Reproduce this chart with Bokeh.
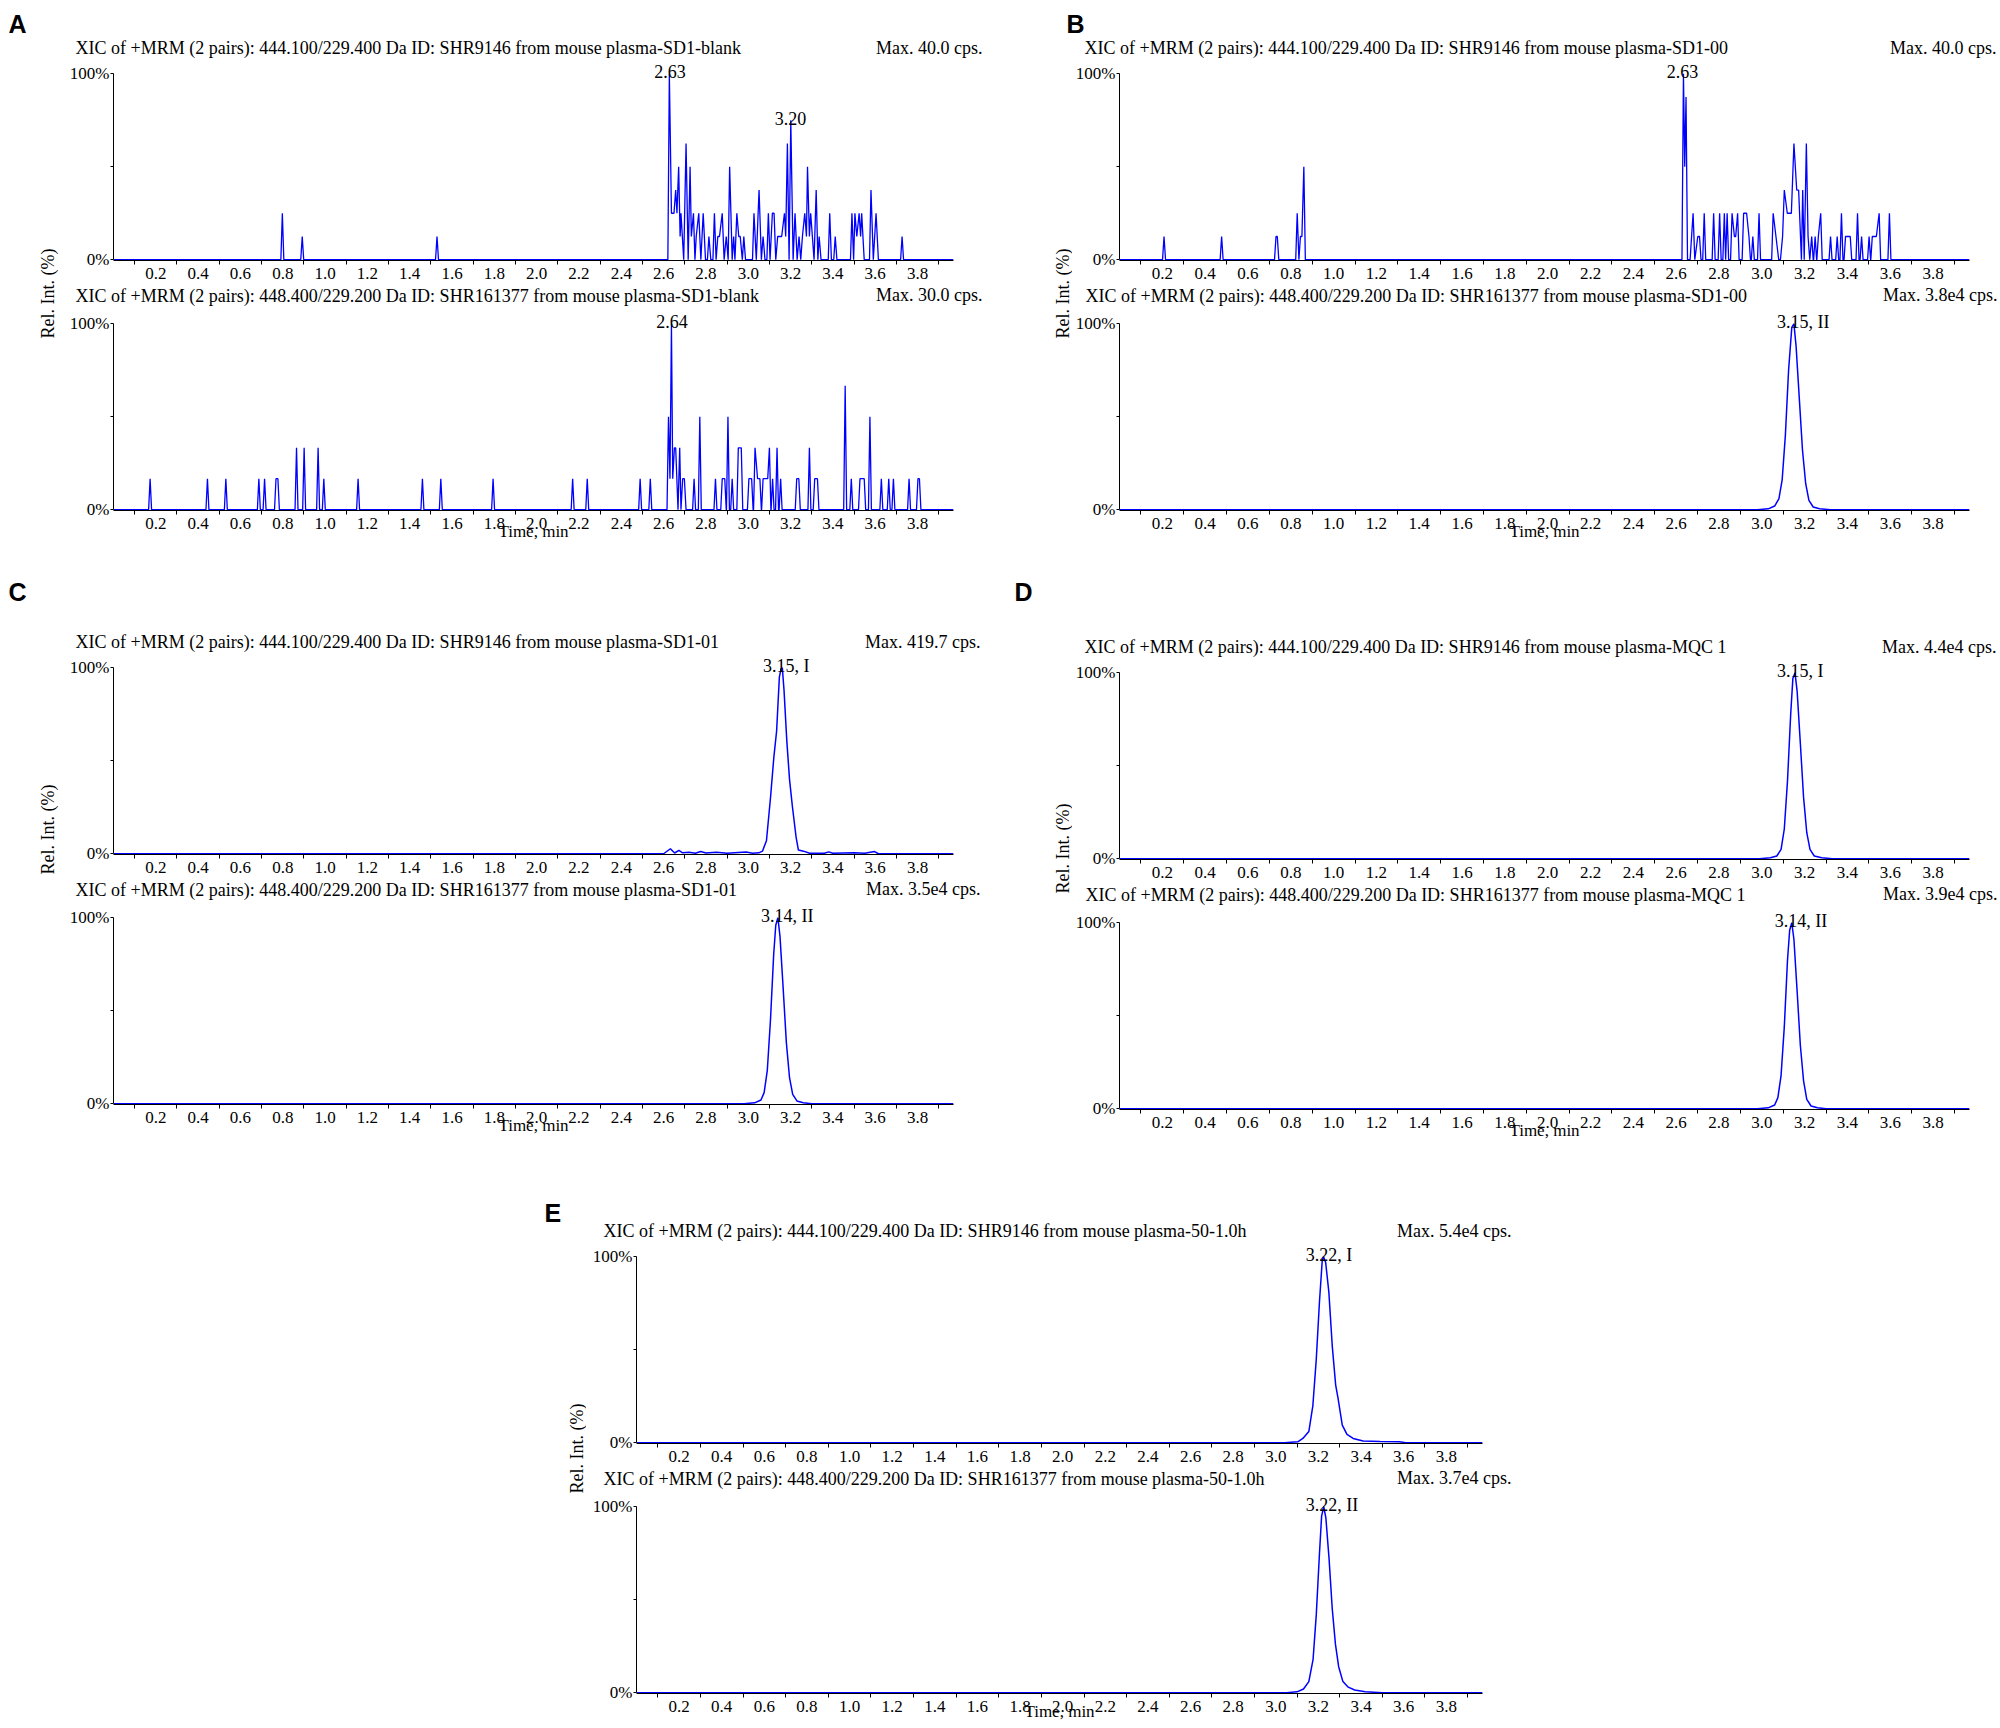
import math
from bokeh.plotting import figure
from bokeh.models import Range1d, FixedTicker, Label, Spacer, Title
from bokeh.layouts import row, column
from bokeh.embed import file_html
from bokeh.resources import INLINE

SERIF = "Liberation Serif"
SANS = "Liberation Sans"
BLUE = "#0000ff"
XEND = 3.97

# ---------------- axis ticks ----------------
X_TICKS = [0.2, 0.4, 0.6, 0.8, 1.0, 1.2, 1.4, 1.6, 1.8, 2.0, 2.2, 2.4, 2.6, 2.8, 3.0, 3.2, 3.4, 3.6, 3.8]
X_TICK_LABELS = ["0.2", "0.4", "0.6", "0.8", "1.0", "1.2", "1.4", "1.6", "1.8", "2.0",
                 "2.2", "2.4", "2.6", "2.8", "3.0", "3.2", "3.4", "3.6", "3.8"]
X_MINOR = [0.1, 0.3, 0.5, 0.7, 0.9, 1.1, 1.3, 1.5, 1.7, 1.9, 2.1, 2.3, 2.5, 2.7, 2.9, 3.1, 3.3, 3.5, 3.7, 3.9]
Y_TICKS = [0, 50, 100]
Y_TICK_LABELS = ["0%", "", "100%"]

# ---------------- texts ----------------
PANEL_LETTERS = ["A", "B", "C", "D", "E"]
Y_LABEL = "Rel. Int. (%)"
X_LABEL = "Time, min"
TITLES = {
    "A1": "XIC of +MRM (2 pairs): 444.100/229.400 Da ID: SHR9146 from  mouse plasma-SD1-blank",
    "A2": "XIC of +MRM (2 pairs): 448.400/229.200 Da ID: SHR161377 from  mouse plasma-SD1-blank",
    "B1": "XIC of +MRM (2 pairs): 444.100/229.400 Da ID: SHR9146 from mouse plasma-SD1-00",
    "B2": "XIC of +MRM (2 pairs): 448.400/229.200 Da ID: SHR161377 from mouse plasma-SD1-00",
    "C1": "XIC of +MRM (2 pairs): 444.100/229.400 Da ID: SHR9146 from mouse plasma-SD1-01",
    "C2": "XIC of +MRM (2 pairs): 448.400/229.200 Da ID: SHR161377 from mouse plasma-SD1-01",
    "D1": "XIC of +MRM (2 pairs): 444.100/229.400 Da ID: SHR9146 from mouse plasma-MQC 1",
    "D2": "XIC of +MRM (2 pairs): 448.400/229.200 Da ID: SHR161377 from mouse plasma-MQC 1",
    "E1": "XIC of +MRM (2 pairs): 444.100/229.400 Da ID: SHR9146 from mouse plasma-50-1.0h",
    "E2": "XIC of +MRM (2 pairs): 448.400/229.200 Da ID: SHR161377 from mouse plasma-50-1.0h",
}
MAXES = {
    "A1": "Max. 40.0 cps.", "A2": "Max. 30.0 cps.",
    "B1": "Max. 40.0 cps.", "B2": "Max. 3.8e4 cps.",
    "C1": "Max. 419.7 cps.", "C2": "Max. 3.5e4 cps.",
    "D1": "Max. 4.4e4 cps.", "D2": "Max. 3.9e4 cps.",
    "E1": "Max. 5.4e4 cps.", "E2": "Max. 3.7e4 cps.",
}
# peak annotations: (time, rel. intensity, text)
PEAKS = {
    "A1": [(2.63, 100, "2.63"), (3.20, 75, "3.20")],
    "A2": [(2.64, 100, "2.64")],
    "B1": [(2.63, 100, "2.63")],
    "B2": [(3.15, 100, "3.15, II")],
    "C1": [(3.15, 100, "3.15, I")],
    "C2": [(3.14, 100, "3.14, II")],
    "D1": [(3.15, 100, "3.15, I")],
    "D2": [(3.14, 100, "3.14, II")],
    "E1": [(3.22, 100, "3.22, I")],
    "E2": [(3.22, 100, "3.22, II")],
}

# ---------------- noise traces (time min, rel. int. %) ----------------
A1_SPIKES = [(0.798, 25), (0.892, 12.5), (1.529, 12.5),
             (2.627, 100), (2.637, 25), (2.649, 25), (2.657, 37.5), (2.663, 25), (2.671, 50), (2.678, 12.5),
             (2.682, 25), (2.695, 0), (2.706, 62.5), (2.716, 0), (2.725, 50), (2.731, 12.5), (2.741, 25),
             (2.748, 0), (2.754, 12.5), (2.766, 25), (2.776, 0), (2.787, 25), (2.798, 0), (2.814, 12.5),
             (2.823, 0), (2.840, 25), (2.848, 0), (2.856, 12.5), (2.864, 12.5), (2.877, 25), (2.886, 0),
             (2.896, 12.5), (2.905, 0), (2.912, 50), (2.924, 0), (2.931, 12.5), (2.937, 0), (2.946, 25),
             (2.955, 12.5), (2.962, 12.5), (2.972, 0), (2.979, 12.5), (2.987, 0), (3.027, 25), (3.038, 0),
             (3.051, 37.5), (3.062, 0), (3.070, 12.5), (3.079, 0), (3.095, 25), (3.103, 0), (3.114, 25),
             (3.122, 25), (3.130, 0), (3.139, 12.5), (3.149, 12.5), (3.158, 12.5), (3.171, 25), (3.177, 12.5),
             (3.185, 62.5), (3.193, 0), (3.201, 75), (3.212, 0), (3.221, 25), (3.231, 0), (3.240, 12.5),
             (3.248, 0), (3.256, 12.5), (3.267, 25), (3.275, 12.5), (3.280, 50), (3.289, 12.5), (3.295, 25),
             (3.303, 12.5), (3.311, 0), (3.321, 37.5), (3.329, 0), (3.335, 12.5), (3.344, 0), (3.385, 25),
             (3.393, 0), (3.411, 12.5), (3.419, 0), (3.490, 25), (3.498, 0), (3.504, 25), (3.513, 12.5),
             (3.524, 25), (3.531, 12.5), (3.536, 25), (3.548, 0), (3.580, 37.5), (3.591, 0), (3.604, 25),
             (3.615, 0), (3.727, 12.5)]

A2_SPIKES = [(0.173, 16.7), (0.444, 16.7), (0.531, 16.7), (0.687, 16.7), (0.714, 16.7), (0.768, 16.7),
             (0.777, 16.7), (0.865, 33.3), (0.901, 33.3), (0.967, 33.3), (0.994, 16.7), (1.156, 16.7),
             (1.460, 16.7), (1.547, 16.7), (1.794, 16.7), (2.170, 16.7), (2.239, 16.7), (2.489, 16.7),
             (2.537, 16.7), (2.623, 50), (2.630, 16.7), (2.637, 100), (2.643, 16.7), (2.651, 33.3),
             (2.657, 33.3), (2.668, 0), (2.676, 33.3), (2.682, 0), (2.690, 16.7), (2.698, 16.7), (2.706, 0),
             (2.744, 16.7), (2.771, 50), (2.845, 16.7), (2.877, 16.7), (2.889, 16.7), (2.904, 50),
             (2.924, 16.7), (2.953, 33.3), (2.967, 33.3), (3.003, 16.7), (3.016, 16.7), (3.032, 33.3),
             (3.044, 16.7), (3.055, 16.7), (3.070, 16.7), (3.084, 16.7), (3.092, 16.7), (3.100, 33.3),
             (3.115, 16.7), (3.136, 33.3), (3.153, 16.7), (3.229, 16.7), (3.239, 16.7), (3.289, 33.3),
             (3.314, 16.7), (3.327, 16.7), (3.458, 66.7), (3.487, 16.7), (3.528, 16.7), (3.540, 16.7),
             (3.548, 16.7), (3.575, 50), (3.629, 16.7), (3.664, 16.7), (3.686, 16.7), (3.760, 16.7),
             (3.802, 16.7), (3.809, 16.7)]

B1_SPIKES = [(0.208, 12.5), (0.477, 12.5), (0.731, 12.5), (0.737, 12.5), (0.830, 25), (0.838, 0),
             (0.845, 12.5), (0.852, 12.5), (0.861, 50),
             (2.634, 100), (2.640, 50), (2.646, 87.5), (2.665, 0), (2.679, 25), (2.687, 0), (2.701, 12.5),
             (2.709, 12.5), (2.731, 25), (2.775, 25), (2.803, 25), (2.825, 25), (2.831, 0), (2.838, 25),
             (2.861, 25), (2.872, 12.5), (2.878, 12.5), (2.887, 25), (2.915, 25), (2.929, 25), (2.940, 12.5),
             (2.958, 12.5), (2.987, 25), (3.053, 25), (3.066, 12.5), (3.079, 0), (3.087, 0), (3.097, 12.5),
             (3.105, 37.5), (3.119, 25), (3.128, 25), (3.138, 25), (3.150, 62.5), (3.163, 37.5),
             (3.172, 37.5), (3.185, 0), (3.191, 37.5), (3.198, 0), (3.208, 62.5), (3.216, 12.5), (3.224, 0),
             (3.233, 12.5), (3.249, 12.5), (3.264, 12.5), (3.275, 25), (3.321, 12.5), (3.352, 12.5),
             (3.372, 25), (3.391, 12.5), (3.402, 12.5), (3.413, 12.5), (3.447, 25), (3.466, 12.5),
             (3.501, 12.5), (3.516, 12.5), (3.529, 12.5), (3.535, 12.5), (3.548, 25), (3.596, 25)]

# ---------------- peak traces (time min, rel. int. %) ----------------
B2_PEAK = [(2.98, 0), (3.03, 0.5), (3.06, 2), (3.08, 6), (3.095, 16), (3.11, 40), (3.125, 75), (3.14, 98),
           (3.15, 100), (3.16, 88), (3.175, 60), (3.19, 32), (3.205, 14), (3.22, 5), (3.24, 1.5),
           (3.27, 0.5), (3.32, 0)]
C1_PEAK = [(2.60, 0), (2.632, 2.7), (2.652, 0.4), (2.672, 1.8), (2.69, 0.5), (2.72, 0.8), (2.75, 0.3),
           (2.775, 1.2), (2.80, 0.4), (2.85, 0.8), (2.90, 0.3), (2.99, 1.0), (3.02, 0.3), (3.05, 0.5),
           (3.067, 1.4), (3.086, 7), (3.105, 30), (3.121, 52), (3.134, 66), (3.147, 95), (3.155, 99.5),
           (3.161, 100), (3.169, 88), (3.182, 61), (3.195, 40), (3.209, 25), (3.226, 9), (3.237, 2),
           (3.261, 1.4), (3.29, 0.3), (3.36, 0.3), (3.38, 1.0), (3.40, 0.3), (3.50, 0.6), (3.55, 0.3),
           (3.597, 1.2), (3.615, 0)]
C2_PEAK = [(2.98, 0), (3.03, 0.5), (3.06, 2), (3.075, 6), (3.09, 18), (3.105, 45), (3.12, 80), (3.13, 96),
           (3.14, 100), (3.15, 90), (3.165, 62), (3.18, 33), (3.195, 14), (3.21, 5), (3.23, 1.5),
           (3.26, 0.5), (3.30, 0)]
D1_PEAK = [(2.99, 0), (3.04, 0.5), (3.07, 1.5), (3.09, 5), (3.105, 16), (3.12, 42), (3.135, 78),
           (3.145, 97), (3.155, 100), (3.165, 90), (3.18, 62), (3.195, 33), (3.21, 14), (3.225, 5),
           (3.245, 1.5), (3.28, 0.5), (3.33, 0)]
D2_PEAK = [(2.98, 0), (3.03, 0.5), (3.06, 2), (3.075, 6), (3.09, 18), (3.105, 44), (3.12, 80), (3.13, 96),
           (3.14, 100), (3.15, 91), (3.165, 63), (3.18, 34), (3.195, 15), (3.21, 5), (3.23, 1.5),
           (3.26, 0.5), (3.30, 0)]
E1_PEAK = [(3.04, 0), (3.103, 0.5), (3.127, 2.3), (3.155, 6), (3.174, 20), (3.190, 45), (3.205, 76),
           (3.218, 98), (3.224, 100), (3.234, 97), (3.249, 81), (3.265, 52), (3.281, 31), (3.292, 24),
           (3.312, 9.5), (3.334, 4.5), (3.363, 2.3), (3.41, 1), (3.49, 0.7), (3.58, 0.5), (3.61, 0)]
E2_PEAK = [(3.05, 0), (3.10, 0.5), (3.13, 2), (3.155, 6), (3.175, 18), (3.19, 42), (3.205, 75),
           (3.215, 95), (3.225, 100), (3.235, 94), (3.25, 72), (3.265, 45), (3.28, 26), (3.295, 14),
           (3.315, 6), (3.34, 3), (3.37, 1.5), (3.42, 0.5), (3.50, 0)]

SPIKE_DT = 0.007
# upper chart: frame starts ~15 px above the 100 % line (room for peak labels)
FRAME_H1, Y_TOP1 = 201, 107.7
# lower chart: frame starts at the centre line of its title row (27 px above 100 %)
FRAME_H2, Y_TOP2, TOP2 = 214, 114.65, 12


def spike_trace(points):
    xs, ys = [0.0], [0.0]
    for t, v in points:
        pt, pv = xs[-1], ys[-1]
        if t - pt > 0.0145:
            if pv != 0:
                xs.append(pt + SPIKE_DT); ys.append(0.0)
            if v != 0:
                xs.append(t - SPIKE_DT); ys.append(0.0)
        xs.append(t); ys.append(v)
    if ys[-1] != 0:
        xs.append(xs[-1] + SPIKE_DT); ys.append(0.0)
    xs.append(XEND); ys.append(0.0)
    return xs, ys


def peak_trace(points):
    xs = [0.0] + [p[0] for p in points] + [XEND]
    ys = [0.0] + [p[1] for p in points] + [0.0]
    return xs, ys


def txt(x, y, s, align="left", size="18px", **kw):
    return Label(x=x, y=y, text=s, text_font=SERIF, text_font_size=size, text_align=align,
                 text_baseline="middle", text_color="black", **kw)


def blank(w, h):
    p = figure(width=w, height=h, x_range=Range1d(0, w), y_range=Range1d(h, 0), min_border=0,
               x_axis_location=None, y_axis_location=None, output_backend="svg",
               toolbar_location=None, title=None)
    p.grid.visible = False
    p.outline_line_color = None
    return p


def header(key, w, h, x0, L, FW, title_dx, max_dx, letter, letter_x, letter_y):
    p = blank(w, h)
    p.add_layout(txt(x0 + L + title_dx, h - 12, TITLES[key]))
    p.add_layout(txt(x0 + L + FW + max_dx, h - 12, MAXES[key], align="right"))
    p.add_layout(Label(x=letter_x, y=letter_y, text=letter, text_font=SANS,
                       text_font_style="bold", text_font_size="25px", text_align="left",
                       text_baseline="middle", text_color="black"))
    return p


def chart(key, trace, L, R, B, FW, lower=False, spiky=True, title_dx=0, max_dx=0, time_std=0):
    fh, ytop, top = (FRAME_H2, Y_TOP2, TOP2) if lower else (FRAME_H1, Y_TOP1, 0)
    p = figure(frame_width=FW, frame_height=fh, min_border_left=L, min_border_right=R,
               min_border_top=top, min_border_bottom=B, x_range=Range1d(0, XEND),
               y_range=Range1d(-0.4, ytop), output_backend="svg", toolbar_location=None, title=None)
    xs, ys = trace
    p.line(xs, ys, line_color=BLUE, line_width=1.3 if spiky else 1.5)
    p.grid.visible = False
    p.outline_line_color = None

    xa = p.xaxis[0]
    xa.ticker = FixedTicker(ticks=X_TICKS, minor_ticks=X_MINOR)
    xa.major_label_overrides = dict(zip(X_TICKS, X_TICK_LABELS))
    xa.major_tick_out = 0
    xa.major_tick_in = 0
    xa.minor_tick_out = 4
    xa.minor_tick_in = 0
    xa.major_label_standoff = 3
    xa.major_label_text_font = SERIF
    xa.major_label_text_font_size = "17px"
    xa.major_label_text_color = "black"
    xa.axis_line_color = "black"
    xa.minor_tick_line_color = "black"

    ya = p.yaxis[0]
    ya.ticker = FixedTicker(ticks=Y_TICKS, minor_ticks=[])
    ya.major_label_overrides = dict(zip(Y_TICKS, Y_TICK_LABELS))
    ya.bounds = (0, 100)
    ya.major_tick_out = 3
    ya.major_tick_in = 0
    ya.minor_tick_out = 0
    ya.minor_tick_in = 0
    ya.major_label_standoff = 1
    ya.major_label_text_font = SERIF
    ya.major_label_text_font_size = "17px"
    ya.major_label_text_color = "black"
    ya.axis_line_color = "black"

    if lower:
        xa.axis_label = X_LABEL
        xa.axis_label_standoff = time_std
        xa.axis_label_text_font = SERIF
        xa.axis_label_text_font_size = "17px"
        xa.axis_label_text_font_style = "normal"
        xa.axis_label_text_color = "black"
        # title row of the lower chart: two zero-height titles centred on the frame top
        for s, al, off in ((TITLES[key], "left", title_dx), (MAXES[key], "right", -max_dx)):
            p.add_layout(Title(text=s, align=al, offset=off, vertical_align="middle", standoff=-21,
                               text_font=SERIF, text_font_size="18px", text_font_style="normal",
                               text_color="black"), "above")

    for (t, v, s) in PEAKS[key]:
        if "," in s:
            p.add_layout(txt(t, v, s, align="left", x_offset=-17, y_offset=2))
        else:
            p.add_layout(txt(t, v, s, align="center", y_offset=2))
    return p


def panel(k1, k2, tr1, tr2, spiky, W0, L, FW, R, H1, B1, B2, title_dx, max_dx,
          letter, letter_x, letter_y, rel_x, rel_y, time_std=-10):
    h1 = header(k1, W0 + L + FW + R, H1, W0, L, FW, title_dx, max_dx, letter, letter_x, letter_y)
    c1 = chart(k1, tr1, L, R, B1, FW, spiky=spiky[0])
    c2 = chart(k2, tr2, L, R, B2, FW, lower=True, spiky=spiky[1], title_dx=title_dx, max_dx=max_dx,
               time_std=time_std)
    side_h = FRAME_H1 + B1 + TOP2 + FRAME_H2 + B2
    s = blank(W0, side_h)
    s.add_layout(txt(rel_x, rel_y, Y_LABEL, align="center", angle=math.pi / 2))
    return column(h1, row(s, column(c1, c2)))


panelA = panel("A1", "A2", spike_trace(A1_SPIKES), spike_trace(A2_SPIKES), (True, True),
               52, 53, 840, 32, 51, 24, 40, -38, 29, PANEL_LETTERS[0], 0, 15, 39, 234)
panelB = panel("B1", "B2", spike_trace(B1_SPIKES), peak_trace(B2_PEAK), (True, False),
               32, 46, 850, 30, 51, 24, 40, -34, 28, PANEL_LETTERS[1], 26, 15, 22, 234)
panelC = panel("C1", "C2", peak_trace(C1_PEAK), peak_trace(C2_PEAK), (False, False),
               52, 53, 840, 32, 103, 24, 40, -38, 27, PANEL_LETTERS[2], 0, 41, 39, 176)
panelD = panel("D1", "D2", peak_trace(D1_PEAK), peak_trace(D2_PEAK), (False, False),
               62, 46, 850, 30, 108, 24, 40, -34, 28, PANEL_LETTERS[3], 4, 41, 52, 190)
panelE = panel("E1", "E2", peak_trace(E1_PEAK), peak_trace(E2_PEAK), (False, False),
               46, 50, 846, 32, 93, 24, 33, -33, 29, PANEL_LETTERS[4], 4, 63, 36, 206, time_std=-13)

body = column(
    row(panelA, Spacer(width=55, height=10), panelB),
    row(panelC, Spacer(width=25, height=10), panelD),
    row(Spacer(width=532, height=10), panelE),
)
layout = column(Spacer(width=10, height=8), row(Spacer(width=8, height=10), body))

open("out.html", "w").write(file_html(layout, INLINE))
